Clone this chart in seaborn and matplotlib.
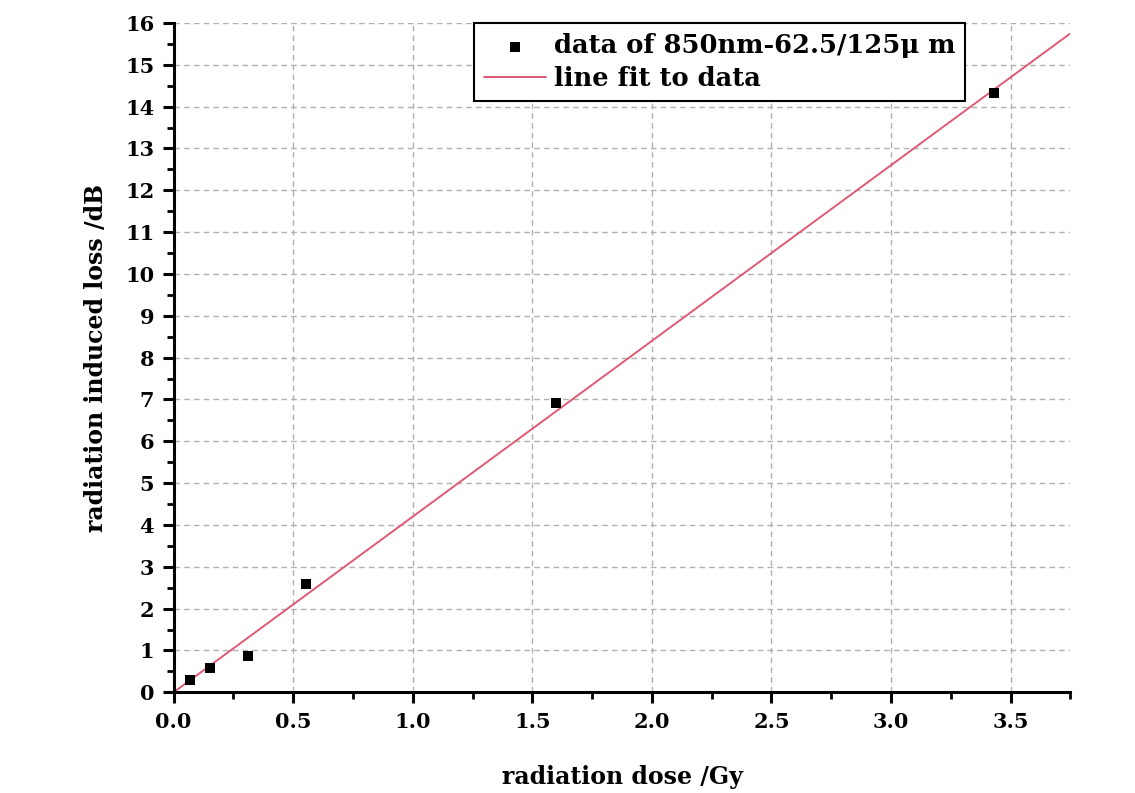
import numpy as np
import pandas as pd
import matplotlib
matplotlib.use('Agg')
import matplotlib.pyplot as plt
from matplotlib.ticker import MultipleLocator
import seaborn as sns

# measured points
dose = [0.067, 0.15, 0.31, 0.555, 1.60, 3.43]
loss = [0.30, 0.58, 0.87, 2.59, 6.91, 14.33]

# fitted line (end points)
fit_dose = [0.0, 3.75]
fit_loss = [0.0, 15.75]

sns.set_style('white')
plt.rcParams['font.family'] = ['DejaVu Serif']
plt.rcParams['font.weight'] = 'bold'
plt.rcParams['text.color'] = 'black'
plt.rcParams['axes.labelcolor'] = 'black'
plt.rcParams['xtick.color'] = 'black'
plt.rcParams['ytick.color'] = 'black'

df = pd.DataFrame({'dose': dose, 'loss': loss})
df_fit = pd.DataFrame({'dose': fit_dose, 'loss': fit_loss})

fig = plt.figure(figsize=(11.35, 7.93), dpi=100)
ax = fig.add_axes([0.153, 0.127, 0.79, 0.844])

sns.scatterplot(data=df, x='dose', y='loss', marker='s', s=55, color='black',
                edgecolor='black', linewidth=0, ax=ax, zorder=3,
                label='data of 850nm-62.5/125\u03bc m')
sns.lineplot(data=df_fit, x='dose', y='loss', color='#df5a74', linewidth=1.4,
             ax=ax, zorder=2, label='line fit to data')

ax.set_xlim(0, 3.75)
ax.set_ylim(0, 16)
ax.xaxis.set_major_locator(MultipleLocator(0.5))
ax.xaxis.set_minor_locator(MultipleLocator(0.25))
ax.yaxis.set_major_locator(MultipleLocator(1))
ax.yaxis.set_minor_locator(MultipleLocator(0.5))
ax.xaxis.set_major_formatter(plt.FormatStrFormatter('%.1f'))

for s in ['top', 'right']:
    ax.spines[s].set_visible(False)
for s in ['left', 'bottom']:
    ax.spines[s].set_linewidth(2.2)
    ax.spines[s].set_color('black')

ax.tick_params(which='both', bottom=True, left=True, top=False, right=False)
ax.tick_params(which='major', direction='out', length=8, width=2.2,
               labelsize=15, color='black', labelcolor='black', pad=6)
ax.tick_params(which='minor', direction='out', length=5, width=2.0, color='black')
for lab in ax.get_xticklabels() + ax.get_yticklabels():
    lab.set_fontweight('bold')

ax.grid(True, which='major', linestyle=(0, (4, 3)), color='#b0b0b0', linewidth=1.0)
ax.set_axisbelow(True)
# no dashed line along the top edge
ax.yaxis.get_gridlines()[-1].set_visible(False)

ax.set_xlabel('radiation dose /Gy', fontsize=17, fontweight='bold', labelpad=24)
ax.set_ylabel('radiation induced loss /dB', fontsize=17, fontweight='bold', labelpad=12)

leg = ax.legend(loc='upper left', bbox_to_anchor=(0.335, 1.0), fontsize=18.5,
                frameon=True, fancybox=False, edgecolor='black', framealpha=1,
                handlelength=2.4, borderpad=0.4, labelspacing=0.3,
                handletextpad=0.3, borderaxespad=0)
leg.get_frame().set_linewidth(1.5)
for t in leg.get_texts():
    t.set_fontweight('bold')

fig.savefig('out.png', dpi=100)
